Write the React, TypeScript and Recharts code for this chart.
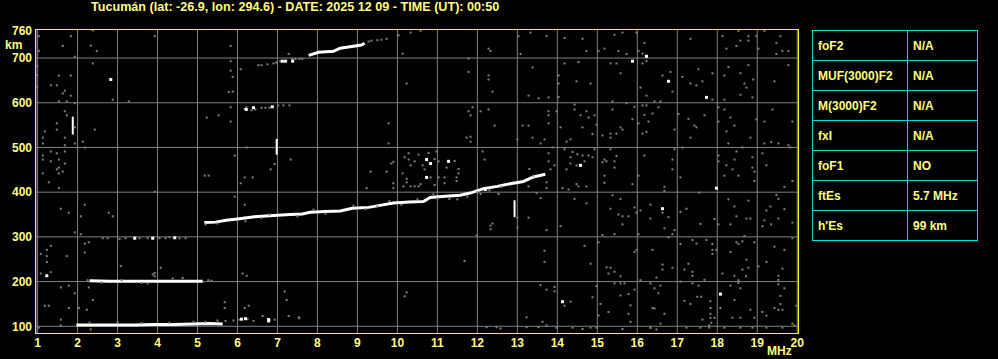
import {
  ComposedChart,
  Scatter,
  Line,
  XAxis,
  YAxis,
  CartesianGrid,
  ReferenceLine
} from "recharts";

// frequency (MHz) and virtual height (km) ticks
const freqTicks = [1, 2, 3, 4, 5, 6, 7, 8, 9, 10, 11, 12, 13, 14, 15, 16, 17, 18, 19, 20];
const heightTicks = [100, 200, 300, 400, 500, 600, 700, 760];
const heightGrid = [100, 200, 300, 400, 500, 600, 700];

const title = "Tucumán (lat: -26.9, lon: 294.6) - DATE: 2025 12 09 - TIME (UT): 00:50";

const paramNames = ["foF2", "MUF(3000)F2", "M(3000)F2", "fxI", "foF1", "ftEs", "h'Es"];
const paramValues = ["N/A", "N/A", "N/A", "N/A", "NO", "5.7 MHz", "99 km"];

// traces [MHz, km]
const eTrace = [[1.97, 103], [2.4, 103], [2.9, 103], [3.4, 103], [3.9, 104], [4.4, 104], [4.9, 105], [5.3, 106], [5.63, 105]];
const eFuzz = [[2.3, 108], [3.0, 108], [3.6, 107], [4.3, 108], [4.9, 110], [5.2, 110], [5.5, 113], [5.7, 112], [5.9, 113], [6.05, 115], [6.25, 116], [6.4, 112], [6.63, 123], [6.93, 115], [7.28, 123], [7.55, 118]];
const eDots = [[6.1, 116], [6.2, 117], [6.78, 112], [6.78, 115]];

const e2Trace = [[2.3, 202], [2.8, 201], [3.3, 201], [3.8, 201], [4.3, 201], [4.8, 201], [5.13, 201]];
const e2Fuzz = [[2.25, 203], [2.6, 198], [3.1, 203], [3.6, 197], [3.75, 196], [3.93, 212], [3.88, 216], [4.38, 207], [4.63, 208], [5.27, 203], [5.35, 202]];

const e3Fuzz = [[2.63, 297], [2.75, 297], [3.05, 295], [3.2, 297], [3.55, 297], [3.75, 297], [4.05, 297], [4.2, 297], [4.3, 299], [4.55, 297], [4.7, 297]];
const e3Dots = [[3.43, 297], [3.88, 297], [4.43, 298]];

const fTrace = [[5.17, 332], [5.45, 333], [5.72, 337], [6.0, 340], [6.42, 345], [6.9, 348], [7.32, 350], [7.62, 351], [7.82, 355], [8.2, 357], [8.57, 358], [8.87, 364], [9.28, 366], [9.6, 371], [9.9, 376], [10.3, 378], [10.65, 379], [10.82, 388], [11.2, 391], [11.57, 393], [11.82, 398], [12.15, 408], [12.5, 413], [12.82, 419], [13.15, 424], [13.4, 434], [13.7, 440]];
const fFuzz = [[5.2, 328], [5.5, 330], [6.2, 335], [6.6, 342], [6.8, 350], [7.5, 346], [7.9, 361], [8.2, 352], [8.9, 370], [9.2, 362], [9.5, 368], [9.8, 380], [10.1, 372], [10.5, 384], [10.9, 395], [11.0, 386], [11.3, 385], [11.5, 384], [11.75, 390], [12.0, 400], [12.08, 396], [12.3, 404], [12.53, 396], [12.6, 412]];

const f2Upper = [[7.78, 706], [8.03, 713], [8.4, 715], [8.57, 722], [9.1, 729], [9.18, 733]];
const f2UpperFuzz = [[6.52, 684], [6.6, 684], [6.75, 686], [6.9, 688], [6.97, 690], [7.07, 693], [7.15, 693], [7.22, 694], [7.37, 698], [7.45, 698], [7.55, 698], [7.62, 698], [9.28, 737], [9.35, 739], [9.5, 740], [9.6, 741], [9.73, 743]];
const f2Lower = [[6.18, 586], [6.22, 590], [6.35, 583], [6.45, 585], [6.6, 589], [6.7, 589], [6.8, 589], [7.02, 594], [7.15, 594], [7.3, 594]];
const f2Dots = [[7.12, 693], [7.2, 693], [7.38, 693], [6.22, 585], [6.4, 589], [6.87, 591]];

const bars = [
  [[1.88, 529], [1.88, 569]],
  [[6.98, 484], [6.98, 519]],
  [[12.93, 344], [12.93, 382]]
];

const noiseUpperLeft = [[1.03, 749], [1.83, 749], [2.38, 762], [1.63, 727], [2.33, 728], [2.48, 716], [1.03, 716], [1.93, 703], [3.93, 749], [5.83, 727], [2.38, 688], [0.99, 682], [0.99, 662], [0.99, 636], [1.53, 661], [1.83, 661], [1.33, 639], [1.48, 639], [1.68, 627], [1.63, 621], [1.83, 616], [2.88, 607], [3.28, 603], [1.53, 603], [1.73, 603], [1.93, 599], [5.83, 693], [5.83, 672], [6.08, 675], [5.88, 658], [5.78, 624], [5.88, 625], [5.83, 590], [5.23, 567], [5.53, 572], [5.83, 558], [1.68, 581], [1.73, 572], [1.48, 554], [1.48, 540], [1.18, 536], [2.43, 540], [1.93, 545], [1.13, 522], [1.68, 522], [1.13, 509], [1.93, 509], [2.13, 513], [2.18, 500], [1.68, 505], [1.33, 491], [1.48, 487], [1.13, 482], [1.68, 491], [1.13, 473], [1.33, 469], [1.53, 473], [1.68, 464], [1.53, 455], [1.48, 451], [1.63, 446], [1.13, 442], [1.53, 442], [5.18, 437], [5.28, 437], [5.93, 482], [6.23, 500], [6.93, 463], [6.83, 451], [6.18, 433], [6.38, 433], [7.28, 709]];

const noiseUpperMid = [[10.03, 751], [10.33, 757], [10.58, 761], [10.13, 710], [10.23, 643], [9.78, 554], [9.78, 509], [7.33, 473], [9.33, 446], [9.73, 446], [9.85, 464], [9.9, 468], [10.13, 442], [11.78, 699], [11.78, 669], [12.28, 661], [12.28, 652], [12.28, 721], [12.33, 716], [12.38, 625], [13.03, 749], [13.08, 709], [13.33, 757], [13.38, 679], [13.28, 616], [13.53, 610], [11.88, 590], [11.78, 581], [11.83, 572], [12.08, 581], [12.28, 585], [12.43, 549], [11.73, 522], [11.83, 524], [11.83, 513], [13.13, 549], [13.28, 549], [13.38, 522], [13.58, 509], [13.0, 518], [12.13, 491], [12.18, 473], [10.28, 487], [10.53, 484], [10.78, 488], [10.98, 491], [10.18, 478], [10.28, 473], [10.43, 469], [10.33, 460], [10.63, 460], [10.93, 474], [11.03, 469], [11.43, 470], [11.23, 455], [11.53, 452], [11.53, 442], [10.83, 433], [11.03, 433], [11.18, 433], [11.48, 433], [10.68, 451], [10.23, 430], [13.3, 452], [13.4, 437]];

const noiseUpperRight = [[13.73, 749], [14.18, 745], [14.63, 743], [14.73, 716], [15.03, 716], [15.18, 721], [15.43, 752], [15.63, 757], [15.98, 757], [16.18, 734], [16.03, 716], [16.13, 710], [15.73, 709], [15.53, 716], [17.33, 743], [18.13, 749], [18.53, 761], [18.58, 739], [18.78, 749], [18.78, 739], [18.98, 749], [19.18, 761], [19.58, 749], [19.48, 734], [19.63, 716], [19.78, 716], [19.48, 709], [18.23, 721], [18.48, 727], [19.03, 721], [14.18, 688], [14.53, 691], [15.33, 688], [15.48, 688], [16.13, 688], [16.23, 693], [15.58, 666], [16.83, 669], [16.63, 661], [17.13, 658], [17.53, 675], [17.88, 666], [17.33, 643], [17.48, 639], [17.63, 648], [14.03, 661], [14.03, 643], [14.48, 648], [14.83, 643], [13.78, 612], [14.03, 613], [16.08, 634], [16.88, 625], [16.23, 616], [17.88, 607], [18.18, 661], [18.28, 680], [18.58, 666], [18.78, 684], [18.9, 652], [18.68, 643], [18.73, 634], [18.58, 618], [18.88, 612], [18.18, 607], [19.43, 648], [19.78, 684], [15.38, 603], [15.73, 599], [16.43, 603], [16.58, 603], [16.13, 594], [16.23, 594], [16.53, 590], [15.93, 591], [14.43, 596], [13.78, 581], [13.98, 581], [13.78, 572], [14.58, 572], [14.73, 581], [14.78, 567], [14.93, 572], [13.78, 554], [14.08, 545], [14.63, 545], [14.43, 585], [15.38, 585], [15.88, 563], [16.18, 573], [16.38, 576], [16.28, 558], [16.03, 554], [15.58, 545], [15.63, 540], [15.13, 527], [15.33, 531], [15.33, 522], [15.48, 531], [14.88, 530], [14.98, 551], [14.33, 518], [14.23, 513], [13.68, 518], [16.13, 531], [16.23, 535], [16.93, 540], [17.03, 575], [17.28, 564], [17.48, 545], [17.43, 549], [17.68, 572], [17.33, 522], [18.03, 590], [18.18, 585], [18.03, 558], [18.33, 567], [18.43, 549], [18.23, 536], [18.28, 509], [18.83, 522], [18.98, 563], [19.38, 585], [19.18, 558], [19.88, 558], [19.18, 509], [19.35, 512], [19.53, 509], [19.78, 505], [13.78, 487], [13.88, 500], [14.18, 496], [14.38, 490], [14.5, 485], [14.63, 482], [14.78, 482], [14.93, 496], [14.33, 478], [14.33, 464], [14.48, 460], [14.68, 469], [14.88, 478], [15.18, 473], [15.13, 467], [15.23, 469], [15.48, 481], [15.43, 469], [15.43, 455], [15.33, 496], [16.18, 482], [16.88, 473], [16.93, 496], [16.88, 451], [16.03, 437], [15.18, 437], [13.78, 469], [13.83, 451], [13.93, 460], [14.23, 451], [17.13, 500], [17.08, 433], [18.03, 482], [18.03, 469], [18.23, 460], [18.43, 473], [18.48, 491], [18.63, 500], [18.88, 478], [18.88, 455], [18.93, 446], [18.38, 451], [18.53, 437], [18.18, 437], [19.13, 487], [19.23, 460], [19.83, 500]];

const noiseLowerLeft = [[1.28, 422], [1.53, 409], [3.93, 401], [1.58, 363], [1.78, 354], [2.18, 372], [2.08, 346], [2.78, 354], [2.88, 346], [1.93, 310], [2.08, 306], [2.18, 285], [2.28, 288], [2.18, 265], [1.33, 280], [1.23, 271], [1.08, 262], [1.23, 257], [1.73, 257], [1.23, 244], [1.08, 218], [1.33, 221], [3.08, 235], [4.08, 231], [3.93, 219], [1.58, 187], [1.78, 191], [2.28, 187], [1.93, 174], [2.38, 159], [1.18, 146], [1.28, 146], [1.78, 141], [2.03, 141], [2.23, 137], [1.58, 115], [1.58, 102], [2.33, 93], [1.03, 97], [6.08, 420], [5.93, 390], [6.18, 372], [6.13, 218], [6.23, 213], [7.18, 178], [7.23, 159], [5.68, 154], [5.68, 141], [6.18, 141], [6.28, 146]];

const noiseLowerMid = [[9.23, 409], [9.9, 409], [9.9, 420], [10.15, 413], [10.23, 422], [10.33, 413], [10.43, 413], [10.53, 413], [10.58, 418], [10.93, 416], [11.18, 420], [11.48, 425], [13.48, 398], [13.58, 387], [13.28, 413], [13.28, 343], [12.33, 325], [12.38, 330], [12.33, 317], [13.0, 343], [13.0, 321], [11.98, 303], [11.68, 246], [10.23, 176], [10.18, 167], [7.53, 120], [13.23, 120], [13.58, 192], [12.23, 98], [12.48, 98], [12.58, 95], [13.23, 98], [13.53, 98], [13.63, 110]];

const noiseLowerRight = [[13.73, 422], [13.73, 409], [14.13, 409], [14.28, 406], [14.48, 418], [14.53, 413], [14.73, 413], [15.18, 421], [15.88, 418], [16.68, 412], [16.68, 403], [17.55, 399], [18.93, 425], [19.68, 412], [19.88, 425], [14.43, 385], [14.73, 375], [15.38, 393], [15.58, 385], [15.33, 363], [15.53, 350], [15.63, 346], [15.78, 346], [15.93, 366], [15.98, 354], [15.63, 328], [15.43, 306], [15.13, 304], [16.33, 372], [16.63, 354], [16.78, 344], [16.33, 341], [16.08, 359], [16.03, 306], [16.68, 319], [16.93, 315], [16.88, 306], [16.78, 299], [17.08, 356], [17.23, 363], [17.58, 329], [17.93, 340], [18.03, 328], [18.28, 384], [18.43, 368], [18.78, 381], [18.48, 346], [18.73, 341], [18.83, 341], [18.33, 328], [18.68, 302], [19.23, 359], [19.33, 368], [19.48, 394], [19.53, 385], [19.68, 362], [19.18, 337], [19.35, 328], [19.53, 341], [19.13, 324], [19.88, 332], [14.08, 324], [13.73, 315], [13.68, 269], [13.68, 244], [14.68, 280], [14.83, 240], [15.03, 288], [15.23, 232], [15.33, 231], [15.43, 222], [15.28, 218], [15.58, 212], [15.98, 271], [15.93, 266], [16.38, 271], [16.63, 238], [16.63, 227], [16.48, 209], [16.08, 203], [16.88, 231], [17.08, 284], [17.38, 293], [17.73, 293], [17.88, 284], [17.88, 271], [17.98, 271], [17.88, 262], [17.48, 285], [17.28, 240], [17.18, 227], [17.38, 222], [17.38, 213], [17.68, 204], [18.13, 218], [18.33, 266], [18.48, 288], [18.63, 290], [18.53, 284], [18.73, 249], [18.78, 231], [18.63, 227], [18.72, 212], [18.43, 213], [18.53, 203], [18.53, 197], [18.93, 288], [19.03, 234], [19.23, 244], [19.43, 278], [19.53, 213], [19.53, 204], [19.63, 229], [19.68, 271], [19.88, 297], [13.93, 188], [13.93, 178], [13.73, 182], [14.88, 165], [14.33, 155], [14.18, 146], [14.98, 190], [15.08, 150], [15.43, 196], [15.58, 196], [15.68, 196], [15.58, 169], [15.78, 172], [15.93, 182], [15.83, 147], [15.28, 132], [15.03, 124], [15.78, 128], [15.83, 110], [16.33, 196], [16.43, 185], [16.58, 191], [16.53, 174], [16.43, 140], [16.38, 141], [16.58, 106], [16.68, 128], [16.33, 97], [17.08, 200], [17.38, 196], [17.53, 191], [17.18, 157], [17.33, 150], [17.5, 166], [17.6, 166], [17.83, 156], [17.83, 141], [17.83, 128], [17.83, 119], [17.63, 115], [17.93, 119], [18.08, 141], [18.33, 191], [18.43, 159], [18.58, 185], [18.58, 119], [18.38, 119], [18.83, 137], [18.93, 119], [19.13, 132], [19.23, 124], [19.43, 141], [19.53, 137], [19.63, 137], [19.53, 194], [19.58, 168], [19.58, 150], [19.68, 185], [19.98, 146], [19.88, 106], [17.8, 102], [17.8, 97], [17.85, 108], [14.38, 97], [14.63, 94], [14.83, 97], [14.98, 97], [15.63, 94], [16.33, 97], [16.48, 93], [17.23, 97], [17.58, 97], [18.18, 97], [18.58, 97], [18.88, 97], [19.23, 97], [19.63, 97], [19.93, 102], [13.73, 102], [13.98, 97]];

const whiteDots = [[2.83, 652], [1.23, 213], [10.73, 473], [10.83, 464], [11.28, 469], [10.73, 433], [16.23, 704], [15.88, 693], [16.78, 648], [17.73, 612], [14.58, 460], [17.98, 409], [16.63, 363], [14.13, 155], [18.08, 172], [12.2, 406]];

const YELLOW = "#ffff80";
const GRAY = "#808080";
const FONT = "'Liberation Sans', Arial, sans-serif";

const pts = (arr: number[][]) => arr.map(([f, km]) => ({ f, km }));

const grayDot = (p: any) => <rect x={p.cx - 1} y={p.cy - 1} width={2} height={2} fill={GRAY} />;
const whiteDot = (p: any) => <rect x={p.cx - 1.5} y={p.cy - 1.5} width={3} height={3} fill="#ffffff" />;

const tickStyle = { fill: YELLOW, fontSize: 12, fontWeight: "bold", fontFamily: FONT };

const grayGroups = [
  eFuzz, e2Fuzz, e3Fuzz, fFuzz, f2UpperFuzz, f2Lower,
  noiseUpperLeft, noiseUpperMid, noiseUpperRight,
  noiseLowerLeft, noiseLowerMid, noiseLowerRight
];
const whiteGroups = [eDots, e3Dots, f2Dots, whiteDots];
const lineTraces = [eTrace, e2Trace, fTrace, f2Upper];

export default function App() {
  return (
    <div style={{ position: "fixed", left: 0, top: 0, width: 998, height: 359, background: "#000", overflow: "hidden", fontFamily: FONT }}>
      <div style={{ position: "absolute", left: 91, top: 0, fontSize: 12.6, fontWeight: "bold", color: YELLOW, lineHeight: "14px", whiteSpace: "nowrap" }}>
        {title}
      </div>
      <div style={{ position: "absolute", left: 5, top: 38, fontSize: 12, fontWeight: "bold", color: YELLOW, lineHeight: "14px" }}>km</div>
      <div style={{ position: "absolute", left: 767, top: 344, fontSize: 12, fontWeight: "bold", color: YELLOW, lineHeight: "14px" }}>MHz</div>

      <div style={{ position: "absolute", left: 0, top: 0 }}>
        <ComposedChart width={998} height={359} margin={{ top: 29, right: 200, bottom: 0, left: 0 }}>
          <CartesianGrid horizontal={false} stroke={GRAY} />
          <XAxis
            type="number"
            dataKey="f"
            domain={[0.96, 20.02]}
            ticks={freqTicks}
            allowDataOverflow
            axisLine={false}
            tickLine={false}
            tickSize={0}
            tickMargin={5}
            height={26}
            tick={tickStyle}
          />
          <YAxis
            type="number"
            dataKey="km"
            domain={[85, 765]}
            ticks={heightTicks}
            allowDataOverflow
            axisLine={false}
            tickLine={false}
            tickSize={0}
            tickMargin={4}
            width={36}
            tick={tickStyle}
          />
          {heightGrid.map((h) => (
            <ReferenceLine key={h} y={h} stroke={GRAY} />
          ))}
          {grayGroups.map((g, i) => (
            <Scatter key={"g" + i} data={pts(g)} shape={grayDot} isAnimationActive={false} />
          ))}
          {lineTraces.map((t, i) => (
            <Line key={"l" + i} data={pts(t)} dataKey="km" stroke="#ffffff" strokeWidth={3} dot={false} isAnimationActive={false} />
          ))}
          {bars.map((b, i) => (
            <Line key={"b" + i} data={pts(b)} dataKey="km" stroke="#ffffff" strokeWidth={2} dot={false} isAnimationActive={false} />
          ))}
          {whiteGroups.map((g, i) => (
            <Scatter key={"w" + i} data={pts(g)} shape={whiteDot} isAnimationActive={false} />
          ))}
        </ComposedChart>
      </div>

      {/* plot frame */}
      <div style={{ position: "absolute", left: 35, top: 29, width: 762, height: 303, border: "1px solid #ffff00" }} />

      {/* ionospheric parameters */}
      <table style={{ position: "absolute", left: 812, top: 30, borderCollapse: "collapse", color: YELLOW, fontSize: 12, fontWeight: "bold" }}>
        <tbody>
          {paramNames.map((n, i) => (
            <tr key={n} style={{ height: 30 }}>
              <td style={{ border: "1px solid #00e0e0", width: 89, padding: "0 0 0 5px" }}>{n}</td>
              <td style={{ border: "1px solid #00e0e0", width: 64, padding: "0 0 0 5px" }}>{paramValues[i]}</td>
            </tr>
          ))}
        </tbody>
      </table>
    </div>
  );
}
